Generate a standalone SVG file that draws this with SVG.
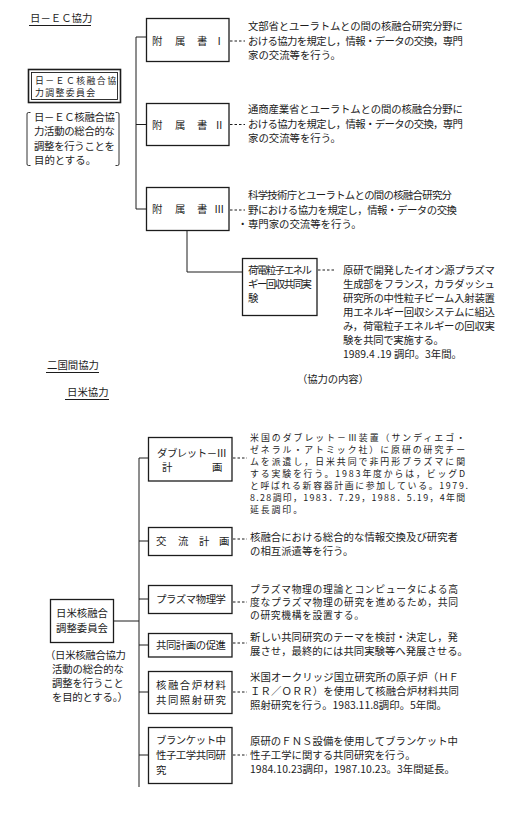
<svg xmlns="http://www.w3.org/2000/svg" width="509" height="816" viewBox="0 0 509 816">
<style>
text{font-family:"Noto Sans CJK JP","Noto Sans CJK SC",sans-serif;font-size:10.4px;fill:#1c1c1c}
.s{font-size:8.9px}
.m{font-size:9.8px}
.box{fill:#fff;stroke:#1c1c1c;stroke-width:1.3}
.thin{fill:none;stroke:#1c1c1c;stroke-width:0.9}
.ln{fill:none;stroke:#1c1c1c;stroke-width:1}
.dot{fill:none;stroke:#1c1c1c;stroke-width:1;stroke-dasharray:2.5 2}
</style>
<rect width="509" height="816" fill="#fff"/>

<g id="connectors">
<path class="ln" d="M146,37 H136 V209 H146 M136,124.5 H146"/>
<path class="ln" d="M187,231 V272 H242"/>
<line class="dot" x1="230" y1="41" x2="245" y2="41"/>
<line class="dot" x1="230" y1="124.5" x2="245" y2="124.5"/>
<line class="dot" x1="230" y1="210" x2="245" y2="210"/>
<line class="dot" x1="318" y1="270" x2="336" y2="270"/>
<path class="ln" d="M148,458 H139 V787 M139,541 H148 M139,599 H148 M139,645 H148 M139,692 H148 M139,755 H148 M113.5,621 H139"/>
<line class="dot" x1="233" y1="458" x2="247" y2="458"/>
<line class="dot" x1="233" y1="539" x2="247" y2="539"/>
<line class="dot" x1="233" y1="602" x2="247" y2="602"/>
<line class="dot" x1="233" y1="643" x2="247" y2="643"/>
<line class="dot" x1="233" y1="692" x2="247" y2="692"/>
<line class="dot" x1="233" y1="755" x2="247" y2="755"/>
</g>

<g id="title-ec">
<text x="30" y="22">日－ＥＣ協力</text>
<line class="ln" x1="29" y1="25.5" x2="91" y2="25.5"/>
</g>

<g id="ec-committee">
<rect x="28.5" y="69.5" width="92" height="33" fill="#fff" stroke="#1c1c1c" stroke-width="1.6"/>
<rect class="thin" x="31.5" y="72.5" width="86" height="27"/>
<text class="s" x="35" y="83.5" textLength="81" lengthAdjust="spacing">日－ＥＣ核融合協</text>
<text class="s" x="35" y="96" textLength="60" lengthAdjust="spacing">力調整委員会</text>
</g>

<g id="ec-purpose">
<path class="thin" d="M30.5,112.5 H28.5 Q27,112.5 27,114 V164 Q27,165.5 28.5,165.5 H30.5"/>
<path class="thin" d="M115.5,112.5 H117.5 Q119,112.5 119,114 V164 Q119,165.5 117.5,165.5 H115.5"/>
<text x="34" y="121" textLength="81" lengthAdjust="spacing">日－ＥＣ核融合協</text>
<text x="34" y="135" textLength="81" lengthAdjust="spacing">力活動の総合的な</text>
<text x="34" y="150" textLength="81" lengthAdjust="spacing">調整を行うことを</text>
<text x="34" y="164">目的とする。</text>
</g>

<g id="annex1">
<rect class="box" x="146.5" y="18.5" width="82.5" height="43"/>
<text x="152 175 197 214" y="45">附属書Ⅰ</text>
</g>
<g id="annex1-text">
<text x="248" y="30" textLength="215" lengthAdjust="spacing">文部省とユーラトムとの間の核融合研究分野に</text>
<text x="248" y="44.5" textLength="215" lengthAdjust="spacing">おける協力を規定し，情報・データの交換，専門</text>
<text x="248" y="58.5">家の交流等を行う。</text>
</g>

<g id="annex2">
<rect class="box" x="146.5" y="103.5" width="82.5" height="42"/>
<text x="152 175 197 214" y="128.5">附属書Ⅱ</text>
</g>
<g id="annex2-text">
<text x="248" y="113" textLength="215" lengthAdjust="spacing">通商産業省とユーラトムとの間の核融合分野に</text>
<text x="248" y="128" textLength="215" lengthAdjust="spacing">おける協力を規定し，情報・データの交換，専門</text>
<text x="248" y="142">家の交流等を行う。</text>
</g>

<g id="annex3">
<rect class="box" x="146.5" y="187.5" width="82.5" height="43"/>
<text x="152 175 197 214" y="213">附属書Ⅲ</text>
</g>
<g id="annex3-text">
<text x="248" y="199" textLength="204" lengthAdjust="spacing">科学技術庁とユーラトムとの間の核融合研究分</text>
<text x="248" y="214" textLength="209" lengthAdjust="spacing">野における協力を規定し，情報・データの交換</text>
<text x="237.5" y="228">・専門家の交流等を行う。</text>
</g>

<g id="charged-particle">
<rect class="box" x="242.5" y="258.5" width="74.5" height="57"/>
<text x="248" y="274" textLength="64" lengthAdjust="spacing">荷電粒子エネル</text>
<text x="248" y="288" textLength="64" lengthAdjust="spacing">ギー回収共同実</text>
<text x="248" y="302">験</text>
</g>
<g id="charged-particle-text">
<text x="343" y="274" textLength="152" lengthAdjust="spacing">原研で開発したイオン源プラズマ</text>
<text x="343" y="288" textLength="152" lengthAdjust="spacing">生成部をフランス，カラダッシュ</text>
<text x="343" y="302" textLength="152" lengthAdjust="spacing">研究所の中性粒子ビーム入射装置</text>
<text x="343" y="316" textLength="152" lengthAdjust="spacing">用エネルギー回収システムに組込</text>
<text x="343" y="330" textLength="152" lengthAdjust="spacing">み，荷電粒子エネルギーの回収実</text>
<text x="343" y="344" textLength="101" lengthAdjust="spacing">験を共同で実施する。</text>
<text x="343" y="358" textLength="119" lengthAdjust="spacing">1989.4 .19 調印。3年間。</text>
</g>

<g id="title-bilateral">
<text x="47" y="369">二国間協力</text>
<line class="ln" x1="46" y1="372.5" x2="99" y2="372.5"/>
<text x="297" y="383" textLength="72" lengthAdjust="spacing">（協力の内容）</text>
<text x="67" y="396">日米協力</text>
<line class="ln" x1="65" y1="399.5" x2="109" y2="399.5"/>
</g>

<g id="jp-us-committee">
<rect class="box" x="50.5" y="599.5" width="63" height="43"/>
<text x="82" y="617" text-anchor="middle">日米核融合</text>
<text x="82" y="632" text-anchor="middle">調整委員会</text>
</g>
<g id="jp-us-purpose">
<text x="45" y="659" textLength="81" lengthAdjust="spacing">（日米核融合協力</text>
<text x="52" y="673" textLength="72" lengthAdjust="spacing">活動の総合的な</text>
<text x="52" y="687" textLength="72" lengthAdjust="spacing">調整を行うこと</text>
<text x="52" y="701" textLength="76" lengthAdjust="spacing">を目的とする。）</text>
</g>

<g id="doublet">
<rect class="box" x="148.5" y="437.5" width="83.5" height="43.5"/>
<text x="157" y="457" textLength="70" lengthAdjust="spacing">ダブレット－Ⅲ</text>
<text x="162 212" y="471">計画</text>
</g>
<g id="doublet-text">
<text class="s" x="250" y="441" textLength="215" lengthAdjust="spacing">米国のダブレット－Ⅲ装置（サンディエゴ・</text>
<text class="s" x="250" y="453" textLength="215" lengthAdjust="spacing">ゼネラル・アトミック社）に原研の研究チー</text>
<text class="s" x="250" y="465" textLength="215" lengthAdjust="spacing">ムを派遣し，日米共同で非円形プラズマに関</text>
<text class="s" x="250" y="477" textLength="215" lengthAdjust="spacing">する実験を行う。1983年度からは，ビッグD</text>
<text class="s" x="250" y="489" textLength="218" lengthAdjust="spacing">と呼ばれる新容器計画に参加している。1979.</text>
<text class="s" x="250" y="501" textLength="215" lengthAdjust="spacing">8.28調印，1983．7.29，1988．5.19，4年間</text>
<text class="s" x="250" y="513" textLength="52" lengthAdjust="spacing">延長調印。</text>
</g>

<g id="exchange">
<rect class="box" x="148.5" y="527.5" width="83.5" height="28"/>
<text x="156 178 199 219" y="545">交流計画</text>
</g>
<g id="exchange-text">
<text x="250" y="541" textLength="208" lengthAdjust="spacing">核融合における総合的な情報交換及び研究者</text>
<text x="250" y="555">の相互派遣等を行う。</text>
</g>

<g id="plasma">
<rect class="box" x="148.5" y="585.5" width="83.5" height="28"/>
<text x="156" y="603" textLength="70" lengthAdjust="spacing">プラズマ物理学</text>
</g>
<g id="plasma-text">
<text class="m" x="250" y="593" textLength="208" lengthAdjust="spacing">プラズマ物理の理論とコンピュータによる高</text>
<text class="m" x="250" y="606" textLength="208" lengthAdjust="spacing">度なプラズマ物理の研究を進めるため，共同</text>
<text class="m" x="250" y="619" textLength="114" lengthAdjust="spacing">の研究機構を設置する。</text>
</g>

<g id="joint-plan">
<rect class="box" x="148.5" y="633.5" width="83.5" height="23.5"/>
<text x="156" y="649" textLength="70" lengthAdjust="spacing">共同計画の促進</text>
</g>
<g id="joint-plan-text">
<text x="250" y="641" textLength="208" lengthAdjust="spacing">新しい共同研究のテーマを検討・決定し，発</text>
<text x="250" y="655" textLength="218" lengthAdjust="spacing">展させ，最終的には共同実験等へ発展させる。</text>
</g>

<g id="materials">
<rect class="box" x="148.5" y="671.5" width="83.5" height="42"/>
<text x="156" y="689" textLength="70" lengthAdjust="spacing">核融合炉材料</text>
<text x="156" y="704" textLength="70" lengthAdjust="spacing">共同照射研究</text>
</g>
<g id="materials-text">
<text x="250" y="681" textLength="209" lengthAdjust="spacing">米国オークリッジ国立研究所の原子炉（ＨＦ</text>
<text x="250" y="695" textLength="209" lengthAdjust="spacing">ＩＲ／ＯＲＲ）を使用して核融合炉材料共同</text>
<text x="250" y="709" textLength="197" lengthAdjust="spacing">照射研究を行う。1983.11.8調印。5年間。</text>
</g>

<g id="blanket">
<rect class="box" x="148.5" y="727.5" width="83.5" height="56"/>
<text x="156" y="744" textLength="70" lengthAdjust="spacing">ブランケット中</text>
<text x="156" y="759" textLength="70" lengthAdjust="spacing">性子工学共同研</text>
<text x="156" y="774">究</text>
</g>
<g id="blanket-text">
<text x="250" y="745" textLength="208" lengthAdjust="spacing">原研のＦＮＳ設備を使用してブランケット中</text>
<text x="250" y="759">性子工学に関する共同研究を行う。</text>
<text x="250" y="773" textLength="205" lengthAdjust="spacing">1984.10.23調印，1987.10.23。3年間延長。</text>
</g>
</svg>
